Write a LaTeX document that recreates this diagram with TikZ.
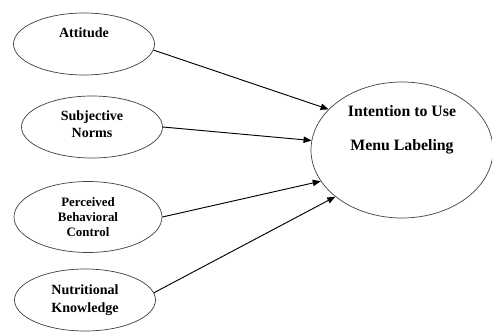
\documentclass[tikz,border=0pt]{standalone}
\usepackage{fontspec}
\setmainfont{Liberation Serif}
\usetikzlibrary{shapes.geometric,arrows.meta}

\begin{document}
\begin{tikzpicture}[>={Triangle[length=2.4mm,width=1.9mm]}, node distance=2.49cm]
    \tikzstyle{oval}=[ellipse,draw=black!75,line width=0.6pt,inner sep=0pt,minimum width=4.23cm,minimum height=1.86cm]
    \tikzstyle{every label}=[align=center,inner sep=0pt,font=\bfseries\fontsize{12}{15}\selectfont]
    \tikzstyle{link}=[->,line width=0.8pt]
    \useasboundingbox (0,0) rectangle (14.76,-10.02);
    \node[oval,label={[yshift=3.3mm]center:Attitude}] (attitude) at (2.52,-1.32) {};
    \node[oval,below of=attitude,xshift=0.24cm,label={[yshift=0.9mm]center:Subjective\\Norms}] (subjnorms) {};
    \node[oval,below of=subjnorms,xshift=-0.12cm,yshift=-0.21cm,minimum width=4.44cm,minimum height=2.13cm,
      label={[font=\bfseries\fontsize{11}{12.8}\selectfont]center:Perceived\\Behavioral\\Control}] (pbc) {};
    \node[oval,below of=pbc,xshift=-0.09cm,label={center:Nutritional\\Knowledge}] (nutrknow) {};
    \node[oval,minimum width=5.46cm,minimum height=4.08cm,
      label={[yshift=6mm,font=\bfseries\fontsize{13.5}{29}\selectfont]center:Intention to Use\\Menu Labeling}] (intention) at (12.06,-4.5) {};
    \draw[link] (attitude.-5) -- (intention.151);
    \draw[link] (subjnorms.east) -- (intention.174);
    \draw[link] (pbc.east) -- (intention.201);
    \draw[link] (nutrknow.6) -- (intention.215);
  \end{tikzpicture}
\end{document}
